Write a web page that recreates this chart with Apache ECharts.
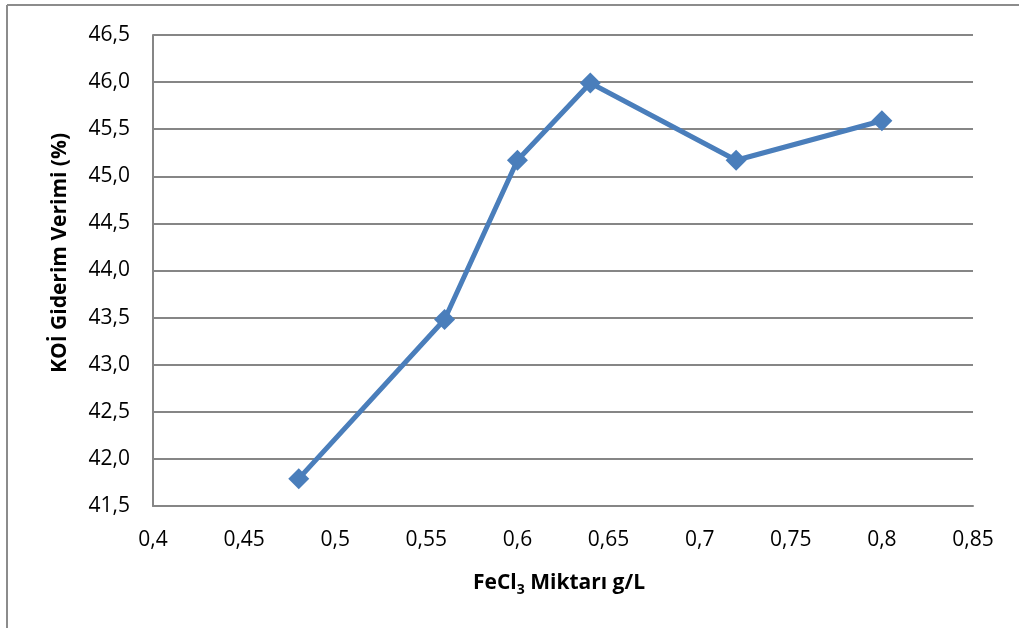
<!DOCTYPE html>
<html>
<head>
<meta charset="utf-8">
<style>
  html, body { margin: 0; padding: 0; background: #fff; }
  #chart { width: 1019px; height: 628px; }
</style>
<script src="https://cdn.jsdelivr.net/npm/echarts@6/dist/echarts.min.js"></script>
</head>
<body>
<div id="chart"></div>
<script>
// FeCl3 dose (g/L) against COD removal efficiency (%)
const doses = [0.48, 0.56, 0.6, 0.64, 0.72, 0.8];
const removal = [41.79, 43.48, 45.17, 45.99, 45.17, 45.59];

const yTitle = 'KOİ Giderim Verimi (%)';

const comma = (v, d) => (d == null ? String(v) : v.toFixed(d)).replace('.', ',');

const chart = echarts.init(document.getElementById('chart'));
const font = '"Open Sans", "Noto Sans", sans-serif';

chart.setOption({
  backgroundColor: '#ffffff',
  animation: false,
  grid: { left: 153, right: 46, top: 35, bottom: 122, containLabel: false },
  graphic: [
    { type: 'line', shape: { x1: 7, y1: 5, x2: 1019, y2: 5 }, style: { stroke: '#8c8c8c', lineWidth: 2 } },
    { type: 'line', shape: { x1: 7, y1: 5, x2: 7, y2: 628 }, style: { stroke: '#8c8c8c', lineWidth: 2 } },
    {
      type: 'text', x: 473, y: 570,
      style: {
        text: '{b|FeCl}{s|3}{b| Miktarı g/L}',
        rich: {
          b: { fontFamily: font, fontWeight: 'bold', fontSize: 21, fill: '#000' },
          s: { fontFamily: font, fontWeight: 'bold', fontSize: 14, fill: '#000', padding: [13, 0, 0, 0] }
        }
      }
    },
    {
      type: 'text', x: 60, y: 253, rotation: Math.PI / 2,
      style: {
        text: yTitle, fontFamily: font, fontWeight: 'bold', fontSize: 21, fill: '#000',
        align: 'center', verticalAlign: 'middle'
      }
    }
  ],
  xAxis: {
    type: 'value',
    min: 0.4, max: 0.85, interval: 0.05,
    axisLine: { show: true, lineStyle: { color: '#868686', width: 2 } },
    axisTick: { show: false },
    splitLine: { show: false },
    axisLabel: {
      margin: 24, fontFamily: font, fontSize: 21, color: '#000',
      formatter: v => comma(Math.round(v * 100) / 100)
    }
  },
  yAxis: {
    type: 'value',
    min: 41.5, max: 46.5, interval: 0.5,
    axisLine: { show: true, lineStyle: { color: '#868686', width: 2 } },
    axisTick: { show: false },
    splitLine: { show: true, lineStyle: { color: '#868686', width: 2 } },
    axisLabel: {
      margin: 23, fontFamily: font, fontSize: 21, color: '#000',
      formatter: v => comma(v, 1)
    }
  },
  series: [{
    type: 'line',
    data: doses.map((d, i) => [d, removal[i]]),
    symbol: 'diamond',
    symbolSize: 21,
    showAllSymbol: true,
    lineStyle: { color: '#4a7ebb', width: 5 },
    itemStyle: { color: '#4a7ebb' }
  }]
});
</script>
</body>
</html>
